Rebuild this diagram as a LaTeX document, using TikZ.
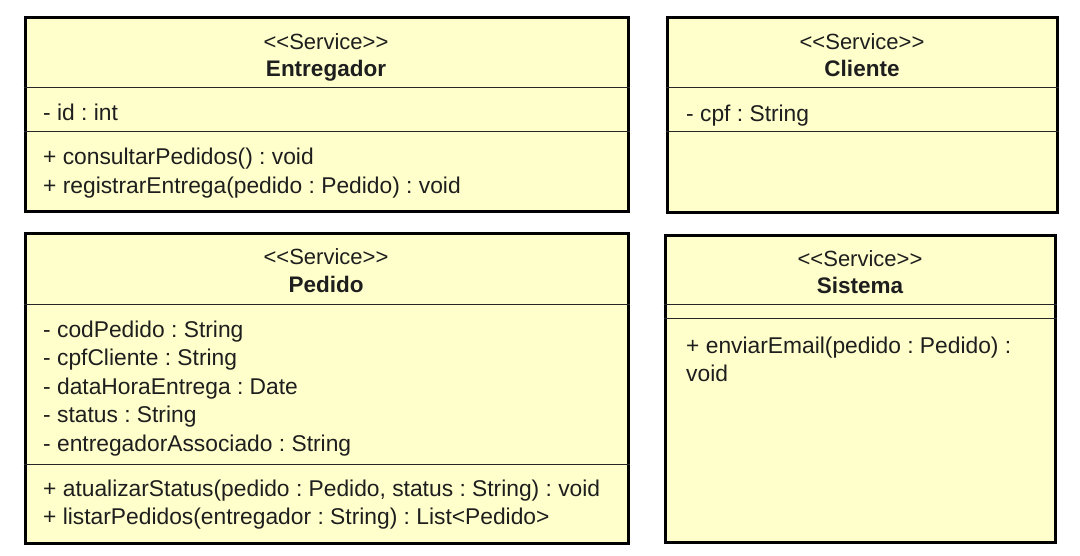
\documentclass[tikz,border=0pt]{standalone}
\usepackage{fontspec}
\setmainfont{Liberation Sans}[Ligatures=TeXOff]
\definecolor{classfill}{RGB}{255,255,204}
\definecolor{classtext}{RGB}{30,30,30}
\frenchspacing

\tikzset{
  classbox/.style={draw=black, line width=3pt, fill=classfill, inner sep=0pt},
  sepline/.style={draw=black!85, line width=1.6pt},
  stereo/.style={inner sep=0pt, yshift=-4.5pt, text=classtext, text height=0.716em, text depth=0pt,
    font=\fontsize{22}{26}\selectfont},
  classname/.style={inner sep=0pt, yshift=-4.5pt, text=classtext, text height=0.716em, text depth=0pt,
    font=\fontsize{22.5}{26}\selectfont\bfseries},
  member/.style={anchor=west, inner sep=0pt, yshift=-4.5pt, text=classtext, text height=0.716em, text depth=0pt,
    font=\fontsize{22.8}{27}\selectfont}
}

\begin{document}
\begin{tikzpicture}[x=1pt, y=-1pt]

      \useasboundingbox (0,0) rectangle (1080,555);

      % class boxes
      \node[classbox, minimum width=603pt, minimum height=194pt] (entregador) at (326.5,114) {};
      \node[classbox, minimum width=390pt, minimum height=195pt] (cliente)    at (862,114.5) {};
      \node[classbox, minimum width=603pt, minimum height=310pt] (pedido)     at (326.5,388) {};
      \node[classbox, minimum width=390pt, minimum height=307pt] (sistema)    at (860,388.5) {};

      % compartments
      \draw[sepline] ([yshift=-72pt]entregador.north west) -- ([yshift=-72pt]entregador.north east);
      \draw[sepline] ([yshift=-116pt]entregador.north west) -- ([yshift=-116pt]entregador.north east);
      \draw[sepline] ([yshift=-72pt]cliente.north west) -- ([yshift=-72pt]cliente.north east);
      \draw[sepline] ([yshift=-116pt]cliente.north west) -- ([yshift=-116pt]cliente.north east);
      \draw[sepline] ([yshift=-73pt]pedido.north west) -- ([yshift=-73pt]pedido.north east);
      \draw[sepline] ([yshift=-233pt]pedido.north west) -- ([yshift=-233pt]pedido.north east);
      \draw[sepline] ([yshift=-71pt]sistema.north west) -- ([yshift=-71pt]sistema.north east);
      \draw[sepline] ([yshift=-85pt]sistema.north west) -- ([yshift=-85pt]sistema.north east);

      % Entregador
      \node[stereo]    (entregador-st) at (326,41) {<<Service>>};
      \node[classname] (entregador-nm) at (326,68) {Entregador};
      \node[member] (entregador-a1) at (43,112) {- id : int};
      \node[member] (entregador-m1) at (43,156) {+ consultarPedidos() : void};
      \node[member] (entregador-m2) at (43,185) {+ registrarEntrega(pedido : Pedido) : void};

      % Cliente
      \node[stereo]    (cliente-st) at (862,41) {<<Service>>};
      \node[classname] (cliente-nm) at (862,68) {Cliente};
      \node[member] (cliente-a1) at (686,113) {- cpf : String};

      % Pedido
      \node[stereo]    (pedido-st) at (326,256) {<<Service>>};
      \node[classname] (pedido-nm) at (326,284) {Pedido};
      \node[member] (pedido-a1) at (43,329) {- codPedido : String};
      \node[member] (pedido-a2) at (43,357.5) {- cpfCliente : String};
      \node[member] (pedido-a3) at (43,386) {- dataHoraEntrega : Date};
      \node[member] (pedido-a4) at (43,414.5) {- status : String};
      \node[member] (pedido-a5) at (43,443) {- entregadorAssociado : String};
      \node[member] (pedido-m1) at (43,488) {+ atualizarStatus(pedido : Pedido, status : String) : void};
      \node[member] (pedido-m2) at (43,516) {+ listarPedidos(entregador : String) : List<Pedido>};

      % Sistema
      \node[stereo]    (sistema-st) at (860,258) {<<Service>>};
      \node[classname] (sistema-nm) at (860,285) {Sistema};
      \node[member] (sistema-m1a) at (686,345) {+ enviarEmail(pedido : Pedido) :};
      \node[member] (sistema-m1b) at (686,373) {void};

\end{tikzpicture}
\end{document}
